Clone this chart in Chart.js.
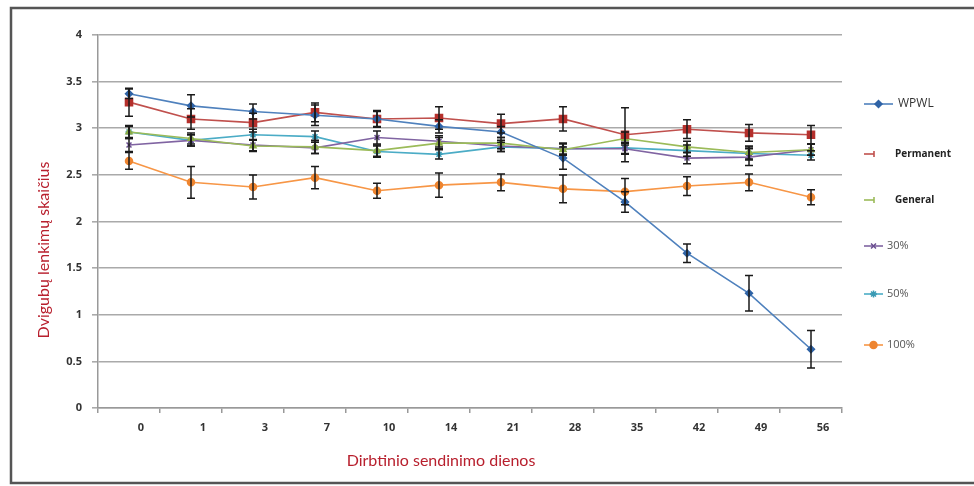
<!DOCTYPE html>
<html>
<head>
<meta charset="utf-8">
<script src="https://cdn.jsdelivr.net/npm/chart.js@4.4.1/dist/chart.umd.min.js"></script>
<style>
  html, body { margin: 0; padding: 0; background: #fff; }
  #wrap { width: 974px; height: 486px; }
</style>
</head>
<body>
<div id="wrap"><canvas id="chart" width="974" height="486"></canvas></div>
<script>
// Dienos (kategorijos)
const days = ['0', '1', '3', '7', '10', '14', '21', '28', '35', '42', '49', '56'];

// Vidurkiai
const wpwl      = [3.37, 3.24, 3.18, 3.14, 3.10, 3.02, 2.96, 2.68, 2.21, 1.66, 1.23, 0.63];
const permanent = [3.28, 3.10, 3.06, 3.17, 3.10, 3.11, 3.05, 3.10, 2.93, 2.99, 2.95, 2.93];
const general   = [2.96, 2.89, 2.81, 2.80, 2.76, 2.84, 2.84, 2.77, 2.89, 2.80, 2.74, 2.77];
const p30       = [2.82, 2.87, 2.82, 2.79, 2.90, 2.86, 2.81, 2.78, 2.78, 2.68, 2.69, 2.77];
const p50       = [2.96, 2.87, 2.93, 2.91, 2.75, 2.72, 2.80, 2.78, 2.79, 2.76, 2.73, 2.71];
const p100      = [2.65, 2.42, 2.37, 2.47, 2.33, 2.39, 2.42, 2.35, 2.32, 2.38, 2.42, 2.26];

// Paklaidos (+/-)
const wpwlErr      = [0.05, 0.12, 0.08, 0.11, 0.08, 0.07, 0.06, 0.12, 0.11, 0.10, 0.19, 0.20];
const permanentErr = [0.15, 0.11, 0.10, 0.10, 0.09, 0.12, 0.10, 0.13, 0.29, 0.10, 0.09, 0.10];
const generalErr   = [0.07, 0.06, 0.06, 0.07, 0.06, 0.06, 0.06, 0.06, 0.07, 0.06, 0.07, 0.06];
const p30Err       = [0.07, 0.06, 0.06, 0.06, 0.07, 0.06, 0.06, 0.06, 0.06, 0.06, 0.09, 0.06];
const p50Err       = [0.06, 0.06, 0.06, 0.06, 0.06, 0.05, 0.05, 0.06, 0.06, 0.06, 0.07, 0.05];
const p100Err      = [0.09, 0.17, 0.13, 0.12, 0.08, 0.13, 0.09, 0.15, 0.14, 0.10, 0.09, 0.08];

const yTicks = [0, 0.5, 1, 1.5, 2, 2.5, 3, 3.5, 4];

function series(label, data, err, color, markColor, style, radius) {
  return {
    label, data, err,
    borderColor: color,
    backgroundColor: markColor,
    pointBorderColor: markColor,
    pointBackgroundColor: markColor,
    pointStyle: style,
    pointRadius: radius,
    pointBorderWidth: 1.5,
    borderWidth: 1.6,
    tension: 0,
    fill: false
  };
}

// Rėmelis aplink visą paveikslą
const framePlugin = {
  id: 'frame',
  beforeDraw(chart) {
    const ctx = chart.ctx;
    ctx.save();
    ctx.fillStyle = '#fff';
    ctx.fillRect(0, 0, chart.width, chart.height);
    ctx.strokeStyle = '#555';
    ctx.lineWidth = 2.5;
    ctx.beginPath();
    ctx.moveTo(974, 8);
    ctx.lineTo(11, 8);
    ctx.lineTo(11, 483);
    ctx.lineTo(974, 483);
    ctx.stroke();
    ctx.restore();
  }
};

// Paklaidų stulpeliai
const errorBars = {
  id: 'errorBars',
  afterDatasetsDraw(chart) {
    const ctx = chart.ctx;
    const y = chart.scales.y;
    ctx.save();
    ctx.strokeStyle = '#1a1a1a';
    ctx.lineWidth = 1.5;
    chart.data.datasets.forEach((ds, i) => {
      const meta = chart.getDatasetMeta(i);
      meta.data.forEach((pt, j) => {
        const e = ds.err[j];
        const top = y.getPixelForValue(ds.data[j] + e);
        const bot = y.getPixelForValue(ds.data[j] - e);
        ctx.beginPath();
        ctx.moveTo(pt.x, top);
        ctx.lineTo(pt.x, bot);
        ctx.moveTo(pt.x - 4, top);
        ctx.lineTo(pt.x + 4, top);
        ctx.moveTo(pt.x - 4, bot);
        ctx.lineTo(pt.x + 4, bot);
        ctx.stroke();
      });
    });
    ctx.restore();
  }
};

// Legenda dešinėje ir ašių pavadinimai
const sideLegend = {
  id: 'sideLegend',
  afterDraw(chart) {
    const ctx = chart.ctx;
    const rows = [
      { y: 104, x0: 864, x1: 893, tx: 898, font: '12px "Open Sans"', color: '#333' },
      { y: 154, x0: 864, x1: 874, tx: 895, font: 'bold 10px "Open Sans"', color: '#222' },
      { y: 200, x0: 864, x1: 874, tx: 895, font: 'bold 10px "Open Sans"', color: '#222' },
      { y: 246, x0: 864, x1: 883, tx: 887, font: '11px "Open Sans"', color: '#555' },
      { y: 294, x0: 864, x1: 883, tx: 887, font: '11px "Open Sans"', color: '#555' },
      { y: 345, x0: 864, x1: 883, tx: 887, font: '11px "Open Sans"', color: '#555' }
    ];
    ctx.save();
    chart.data.datasets.forEach((ds, i) => {
      const r = rows[i];
      ctx.strokeStyle = ds.borderColor;
      ctx.lineWidth = 1.6;
      ctx.beginPath();
      ctx.moveTo(r.x0, r.y);
      ctx.lineTo(r.x1, r.y);
      ctx.stroke();
      if (i === 1 || i === 2) {
        ctx.beginPath();
        ctx.moveTo(r.x1, r.y - 3);
        ctx.lineTo(r.x1, r.y + 3);
        ctx.stroke();
      } else {
        ctx.fillStyle = ds.pointBackgroundColor;
        ctx.strokeStyle = ds.pointBorderColor;
        ctx.lineWidth = 1.5;
        Chart.helpers.drawPoint(ctx, {
          pointStyle: ds.pointStyle,
          radius: ds.pointRadius,
          borderWidth: 1.5
        }, (r.x0 + r.x1) / 2, r.y);
      }
      ctx.fillStyle = r.color;
      ctx.font = r.font;
      ctx.textAlign = 'left';
      ctx.textBaseline = 'middle';
      ctx.fillText(ds.label, r.tx, r.y);
    });

    // ašių pavadinimai
    ctx.fillStyle = '#b8202e';
    ctx.font = '16px Lato';
    ctx.textAlign = 'center';
    ctx.textBaseline = 'middle';
    ctx.fillText('Dirbtinio sendinimo dienos', 441, 461);
    ctx.translate(44, 250);
    ctx.rotate(-Math.PI / 2);
    ctx.fillText('Dvigubų lenkimų skaičius', 0, 0);
    ctx.restore();
  }
};

const chart = new Chart(document.getElementById('chart'), {
  type: 'line',
  data: {
    labels: days,
    datasets: [
      series('WPWL', wpwl, wpwlErr, '#4f81bd', '#2f63a6', 'rectRot', 3.5),
      series('Permanent', permanent, permanentErr, '#c0504d', '#b5302c', 'rect', 5),
      series('General', general, generalErr, '#9bbb59', '#8aab45', 'triangle', 3.5),
      series('30%', p30, p30Err, '#8064a2', '#6a4e90', 'crossRot', 3.5),
      series('50%', p50, p50Err, '#4bacc6', '#3a9ab4', 'star', 3.5),
      series('100%', p100, p100Err, '#f79646', '#ee8530', 'circle', 3.5)
    ]
  },
  options: {
    responsive: false,
    animation: false,
    layout: { padding: { left: 14, top: 35, right: 132, bottom: 0 } },
    plugins: {
      legend: { display: false },
      tooltip: { enabled: false }
    },
    scales: {
      x: {
        offset: true,
        grid: {
          offset: true,
          drawOnChartArea: false,
          drawTicks: true,
          tickLength: 5,
          color: '#999',
          lineWidth: 1.5
        },
        border: { color: '#999', width: 1.5 },
        ticks: {
          padding: 8,
          labelOffset: 12,
          maxRotation: 0,
          autoSkip: false,
          color: '#333',
          font: { family: 'Open Sans', size: 11, weight: 'bold' }
        },
        afterFit(scale) { scale.height = 78; }
      },
      y: {
        min: 0,
        max: 4,
        afterBuildTicks(scale) { scale.ticks = yTicks.map(v => ({ value: v })); },
        grid: {
          color: '#aaa',
          lineWidth: 1.6,
          tickLength: 6,
          drawTicks: true
        },
        border: { color: '#999', width: 1.5 },
        ticks: {
          padding: 10,
          color: '#333',
          font: { family: 'Open Sans', size: 11, weight: 'bold' },
          callback: v => String(v)
        },
        afterFit(scale) { scale.width = 84; }
      }
    }
  },
  plugins: [framePlugin, errorBars, sideLegend]
});
</script>
</body>
</html>
